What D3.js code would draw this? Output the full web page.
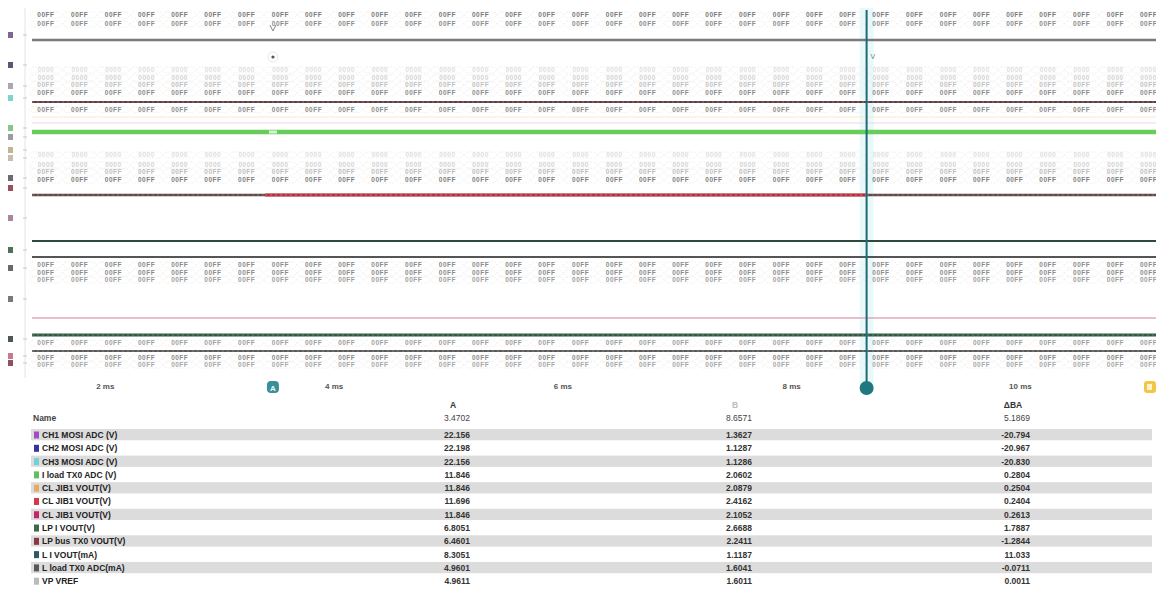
<!DOCTYPE html>
<html><head><meta charset="utf-8">
<script src="https://cdn.jsdelivr.net/npm/d3@7"></script>
<style>
body{margin:0;background:#fff;font-family:"Liberation Sans",Arial,sans-serif}
svg{display:block}
</style>
</head><body>
<svg id="c" width="1156" height="592"></svg>
<script>
// ---------------- DATA ----------------
const clockTimes = [1.34,1.63,1.93,2.22,2.51,2.80,3.09,3.39,3.68,3.97,4.26,4.55,4.85,5.14,5.43,5.72,6.01,6.31,6.60,6.89,7.18,7.47,7.77,8.06,8.35,8.64,8.93,9.23,9.52,9.81,10.10,10.39,10.69,10.98,11.27];
const tickValues = [2, 4, 6, 8, 10];
const tickLabels = ["2 ms", "4 ms", "6 ms", "8 ms", "10 ms"];
const cursorA = 3.47;
const cursorB = 8.66;
const busLabels = ["00FF","00FF","0000","0000","00FF","00FF","00FF","0000","0000","00FF","00FF","00FF","00FF","00FF","00FF","00FF","00FF"];
const highlightSpan = [3.40, 8.66];

const channelNames = ["CH1 MOSI ADC (V)","CH2 MOSI ADC (V)","CH3 MOSI ADC (V)","I load TX0 ADC (V)","CL JIB1 VOUT(V)","CL JIB1 VOUT(V)","CL JIB1 VOUT(V)","LP I VOUT(V)","LP bus TX0 VOUT(V)","L I VOUT(mA)","L load TX0 ADC(mA)","VP VREF"];
const valuesA = ["22.156","22.198","22.156","11.846","11.846","11.696","11.846","6.8051","6.4601","8.3051","4.9601","4.9611"];
const valuesB = ["1.3627","1.1287","1.1286","2.0602","2.0879","2.4162","2.1052","2.6688","2.2411","1.1187","1.6041","1.6011"];
const valuesD = ["-20.794","-20.967","-20.830","0.2804","0.2504","0.2404","0.2613","1.7887","-1.2844","11.033","-0.0711","0.0011"];
const headerTop = ["", "A", "B", "ΔBA"];
const headerSub = ["Name", "3.4702", "8.6571", "5.1869"];

// ---------------- LAYOUT / STYLE ----------------
const plotLeft = 30, plotRight = 1156, plotTop = 8, plotBottom = 378;
const svg = d3.select("#c");

const x = d3.scaleLinear().domain([1.346, 11.19]).range([plotLeft, plotRight]);
const y = d3.scaleLinear().domain([0, 38]).range([0, 380]);

const busLanes = [1.5,2.4,7.0,7.8,8.5,9.3,10.95,15.5,16.5,17.2,18.0,26.5,27.3,28.0,34.3,35.8,36.5];
const busShades = ["#7a7a7a","#8c8c8c","#e0e0e0","#d4d4d4","#c2c2c2","#8c8c8c","#8c8c8c","#e0e0e0","#d4d4d4","#bdbdbd","#7f7f7f","#8c8c8c","#8c8c8c","#a0a0a0","#a0a0a0","#8c8c8c","#a8a8a8"];

const lines = [
  {lane:4.0,  color:"#7a7a7a", w:2.5},
  {lane:10.2, color:"#5a4044", w:2.2, dash:"#b07070"},
  {lane:11.7, color:"#f3eec4", w:1.2},
  {lane:12.3, color:"#f6d4e4", w:1.2},
  {lane:13.2, color:"#66cc5c", w:4.5},
  {lane:19.5, color:"#5a4a4a", w:2.6, dash:"#a07070"},
  {lane:24.1, color:"#2e4a3c", w:2.2},
  {lane:25.7, color:"#555",    w:2.2},
  {lane:31.8, color:"#dcaab8", w:1.6},
  {lane:33.5, color:"#2f5a40", w:3, dash:"#6a8a70"},
  {lane:35.1, color:"#5a5a5a", w:2.2, dash:"#8a8a8a"}
];

const gutterMarks = [
  {lane:3.5,c:"#6b4a7d"},{lane:6.5,c:"#3a3a5e"},{lane:8.6,c:"#9a9aa8"},{lane:9.8,c:"#5fd0c8"},
  {lane:12.8,c:"#6cbf70"},{lane:13.7,c:"#8a8a90"},{lane:15.0,c:"#b8a880"},{lane:15.8,c:"#c0b0a0"},
  {lane:17.8,c:"#505058"},{lane:18.8,c:"#8a3040"},{lane:21.8,c:"#a07090"},{lane:25.0,c:"#2e5a3a"},
  {lane:26.8,c:"#505050"},{lane:29.9,c:"#606068"},{lane:33.9,c:"#303838"},{lane:35.6,c:"#c06080"},{lane:36.3,c:"#803040"}
];

// ---------------- PLOT ----------------
const plot = svg.append("g");

plot.append("line").attr("x1",25).attr("x2",25).attr("y1",plotTop).attr("y2",plotBottom)
  .attr("stroke","#e4e4e4").attr("stroke-width",1);
plot.selectAll("rect.gm").data(gutterMarks).join("rect").attr("class","gm")
  .attr("x",8).attr("y",d=>y(d.lane)-3).attr("width",5).attr("height",6)
  .attr("fill",d=>d.c).attr("opacity",0.85);
plot.selectAll("line.gt").data(gutterMarks).join("line").attr("class","gt")
  .attr("x1",23).attr("x2",27).attr("y1",d=>y(d.lane)).attr("y2",d=>y(d.lane))
  .attr("stroke","#bbb").attr("stroke-width",0.8);

// cursor halo
plot.append("rect").attr("x",x(cursorB)-7).attr("y",plotTop).attr("width",14).attr("height",plotBottom-plotTop+10)
  .attr("fill","#dff6f8").attr("opacity",0.7);

// buses
const segs = d3.pairs(clockTimes);
busLanes.forEach((lane,i)=>{
  const g = plot.append("g");
  const yc = y(lane);
  g.selectAll("path").data(segs).join("path")
    .attr("d",([t0,t1])=>{const a=x(t0), b=x(t1);
      return `M${a+3},${yc-3}L${b-3},${yc-3}L${b},${yc}L${b-3},${yc+3}L${a+3},${yc+3}L${a},${yc}Z`;})
    .attr("fill","none").attr("stroke","#e6e6e6").attr("stroke-width",0.7).attr("stroke-dasharray","1.5,1.5");
  g.selectAll("text").data(segs).join("text")
    .attr("x",([t0,t1])=>x((t0+t1)/2)).attr("y",yc+2.2)
    .attr("text-anchor","middle").attr("font-size",6.5).attr("font-weight","bold")
    .attr("letter-spacing",0.5).style("fill",busShades[i]).text(busLabels[i]);
});

// digital lines
lines.forEach(l=>{
  plot.append("line").attr("x1",plotLeft+2).attr("x2",plotRight).attr("y1",y(l.lane)).attr("y2",y(l.lane))
    .attr("stroke",l.color).attr("stroke-width",l.w);
  if(l.dash){
    plot.append("line").attr("x1",plotLeft+2).attr("x2",plotRight).attr("y1",y(l.lane)).attr("y2",y(l.lane))
      .attr("stroke",l.dash).attr("stroke-width",0.9).attr("stroke-dasharray","2,3");
  }
});
plot.append("line").attr("x1",x(highlightSpan[0])).attr("x2",x(highlightSpan[1]))
  .attr("y1",y(19.5)).attr("y2",y(19.5)).attr("stroke","#b8303e").attr("stroke-width",3);
plot.append("line").attr("x1",x(highlightSpan[0])).attr("x2",x(highlightSpan[1]))
  .attr("y1",y(19.5)).attr("y2",y(19.5)).attr("stroke","#e07080").attr("stroke-width",0.9).attr("stroke-dasharray","2,3");

// cursor A small markers
plot.append("path").attr("d",`M${x(cursorA)-3},${y(2.5)}L${x(cursorA)},${y(3.1)}L${x(cursorA)+3},${y(2.5)}`)
  .attr("fill","none").attr("stroke","#888").attr("stroke-width",1);
plot.append("circle").attr("cx",x(cursorA)).attr("cy",y(5.7)).attr("r",5).attr("fill","none").attr("stroke","#e8e8e8");
plot.append("circle").attr("cx",x(cursorA)).attr("cy",y(5.7)).attr("r",1.6).attr("fill","#555");
plot.append("rect").attr("x",x(cursorA)-4).attr("y",y(13.2)-1.5).attr("width",8).attr("height",3).attr("fill","#d8f4d8");

// cursor B line
plot.append("line").attr("x1",x(cursorB)).attr("x2",x(cursorB)).attr("y1",plotTop+2).attr("y2",388)
  .attr("stroke","#1d6a76").attr("stroke-width",2);
plot.append("text").attr("x",x(cursorB)+4).attr("y",y(5.9)).attr("font-size",7).attr("fill","#777").text("V");

// axis
const axis = d3.axisBottom(x).tickValues(tickValues).tickFormat((d,i)=>tickLabels[i]).tickSize(0).tickPadding(0);
const ag = svg.append("g").attr("transform","translate(0,383)").call(axis);
ag.select(".domain").remove();
ag.selectAll("text").attr("font-size",8).attr("fill","#555").attr("font-weight","bold").attr("font-family","Liberation Sans, Arial");

// cursor handles
svg.append("rect").attr("x",x(cursorA)-6).attr("y",381).attr("width",12).attr("height",12).attr("rx",4)
  .attr("fill","#3c8f98");
svg.append("text").attr("x",x(cursorA)).attr("y",390.5).attr("text-anchor","middle").attr("font-size",8)
  .attr("font-weight","bold").attr("fill","#e6fbfb").text("A");
svg.append("circle").attr("cx",x(cursorB)).attr("cy",388).attr("r",7).attr("fill","#1f7880");
svg.append("rect").attr("x",1144).attr("y",381).attr("width",12).attr("height",12).attr("rx",3)
  .attr("fill","#f2c64a");
svg.append("rect").attr("x",1147).attr("y",384).attr("width",5).attr("height",6).attr("fill","#fff3c8");

// ---------------- TABLE ----------------
const colX = [33, 470, 752, 1030];
const tbl = svg.append("g");
const rowY = d3.scaleBand().domain(d3.range(channelNames.length)).range([428.5, 588]).paddingInner(0);
const tableColors = ["#a24cc8","#35359c","#6cd4d4","#5cc05c","#e4aa66","#d23a4a","#c8246a","#3a6a48","#8a3648","#2e5866","#585858","#bbbbbb"];

tbl.selectAll("text.h1").data(headerTop).join("text").attr("class","h1")
  .attr("x",(d,i)=>i===0?colX[0]:colX[i]-17).attr("y",408).attr("text-anchor",(d,i)=>i===0?"start":"middle")
  .attr("font-size",8.5).attr("font-weight","bold").attr("fill",(d,i)=>i===2?"#bbb":"#333").text(d=>d);
tbl.selectAll("text.h2").data(headerSub).join("text").attr("class","h2")
  .attr("x",(d,i)=>colX[i]).attr("y",421).attr("text-anchor",(d,i)=>i===0?"start":"end")
  .attr("font-size",8.5).attr("font-weight",(d,i)=>i===0?"bold":"normal").attr("fill","#444").text(d=>d);

const rows = tbl.selectAll("g.row").data(channelNames).join("g").attr("class","row")
  .attr("transform",(d,i)=>`translate(0,${rowY(i)})`);
rows.append("rect").attr("x",31).attr("y",0.5).attr("width",1121).attr("height",rowY.bandwidth()-2)
  .attr("fill",(d,i)=>i%2===0?"#dcdcdc":"#fff");
rows.append("rect").attr("x",34).attr("y",3).attr("width",5).attr("height",7)
  .attr("fill",(d,i)=>tableColors[i]);
rows.append("text").attr("x",42).attr("y",9.5).attr("font-size",8.5).attr("font-weight","bold")
  .attr("fill","#222").text(d=>d);
rows.append("text").attr("x",colX[1]).attr("y",9.5).attr("text-anchor","end").attr("font-size",8.5)
  .attr("font-weight","bold").attr("fill","#333").text((d,i)=>valuesA[i]);
rows.append("text").attr("x",colX[2]).attr("y",9.5).attr("text-anchor","end").attr("font-size",8.5)
  .attr("font-weight","bold").attr("fill","#333").text((d,i)=>valuesB[i]);
rows.append("text").attr("x",colX[3]).attr("y",9.5).attr("text-anchor","end").attr("font-size",8.5)
  .attr("font-weight","bold").attr("fill","#333").text((d,i)=>valuesD[i]);
</script>
</body></html>
